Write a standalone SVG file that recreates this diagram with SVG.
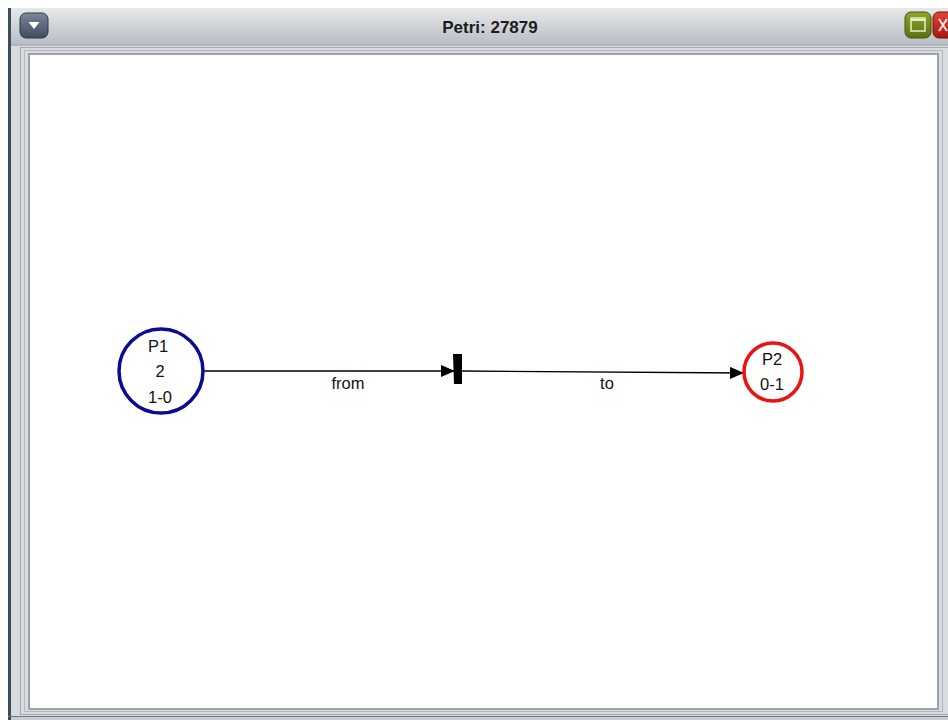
<svg xmlns="http://www.w3.org/2000/svg" width="948" height="720" viewBox="0 0 948 720">
<defs>
<linearGradient id="tb" x1="0" y1="0" x2="0" y2="1">
<stop offset="0" stop-color="#e6e8eb"/>
<stop offset="1" stop-color="#b9bdc4"/>
</linearGradient>
<linearGradient id="btn" x1="0" y1="0" x2="0" y2="1">
<stop offset="0" stop-color="#7c8799"/>
<stop offset="1" stop-color="#3f4b5e"/>
</linearGradient>
<linearGradient id="grn" x1="0" y1="0" x2="0" y2="1">
<stop offset="0" stop-color="#8fa62a"/>
<stop offset="1" stop-color="#5b7010"/>
</linearGradient>
<linearGradient id="red" x1="0" y1="0" x2="0" y2="1">
<stop offset="0" stop-color="#e0463a"/>
<stop offset="1" stop-color="#a8150e"/>
</linearGradient>
<marker id="arr" viewBox="0 0 14 12" refX="14" refY="6" markerWidth="14" markerHeight="12" markerUnits="userSpaceOnUse" orient="auto">
<path d="M0,0 L14,6 L0,12 Z" fill="#000"/>
</marker>
<style>
.lbl{font-family:"Liberation Sans",Arial,sans-serif;font-size:16.5px;fill:#111;text-anchor:middle}
.arc{stroke:#000;stroke-width:1.3;fill:none}
</style>
</defs>
<rect width="948" height="720" fill="#ffffff"/>
<g id="window">
<rect x="8" y="8" width="945" height="712" fill="#c9ccd3"/>
<rect x="8" y="8" width="3" height="712" fill="#3b4c5c"/>
<rect x="11" y="8" width="940" height="37" fill="url(#tb)"/>
<line x1="11" y1="45" x2="948" y2="45" stroke="#9ea3ab" stroke-width="1"/>
<rect x="11" y="46" width="937" height="670" fill="#d8dbe0"/>
<rect x="20.5" y="47.5" width="930" height="667" fill="none" stroke="#a4a8b0" stroke-width="1"/>
<rect x="24.5" y="50.5" width="918" height="661" fill="none" stroke="#b4b8bf" stroke-width="1"/>
<rect x="28" y="53" width="911" height="657" fill="#9ea2a9"/>
<rect x="30" y="55" width="907" height="653" fill="#ffffff"/>
<line x1="8" y1="716.5" x2="948" y2="716.5" stroke="#6d7682" stroke-width="1"/>
<rect x="20" y="13" width="28" height="25" rx="6" fill="url(#btn)" stroke="#2f3847" stroke-width="1"/>
<path d="M28.5,22 L39.5,22 L34,29 Z" fill="#ffffff"/>
<rect x="905" y="12" width="26" height="26" rx="6" fill="url(#grn)" stroke="#45560a" stroke-width="1"/>
<rect x="911" y="18" width="14" height="13" fill="none" stroke="#e9efc8" stroke-width="1.5"/>
<line x1="911" y1="20" x2="925" y2="20" stroke="#e9efc8" stroke-width="2"/>
<rect x="933" y="12" width="24" height="26" rx="6" fill="url(#red)" stroke="#7b0e08" stroke-width="1"/>
<path d="M939,19 L947,31 M947,19 L939,31" stroke="#fbe3e0" stroke-width="2"/>
<text x="490" y="33" style="font-family:'Liberation Sans',Arial,sans-serif;font-size:17px;font-weight:bold;fill:#1c1c1c;text-anchor:middle">Petri: 27879</text>
</g>
<g id="connectors">
<line class="arc" x1="203" y1="371" x2="455" y2="371" marker-end="url(#arr)"/>
<line class="arc" x1="461" y1="371" x2="744" y2="373" marker-end="url(#arr)"/>
<text class="lbl" x="348" y="389">from</text>
<text class="lbl" x="607" y="389">to</text>
</g>
<g id="P1">
<circle cx="161" cy="371" r="42" fill="#ffffff" stroke="#0a0a96" stroke-width="3.5"/>
<text class="lbl" x="158" y="352">P1</text>
<text class="lbl" x="160" y="377">2</text>
<text class="lbl" x="160" y="403">1-0</text>
</g>
<g id="T1">
<polygon points="453,354 462,354 462,384 454,384" fill="#000"/>
</g>
<g id="P2">
<circle cx="773" cy="372" r="29" fill="#ffffff" stroke="#ee1111" stroke-width="3.5"/>
<text class="lbl" x="772" y="365">P2</text>
<text class="lbl" x="772" y="390">0-1</text>
</g>
</svg>
